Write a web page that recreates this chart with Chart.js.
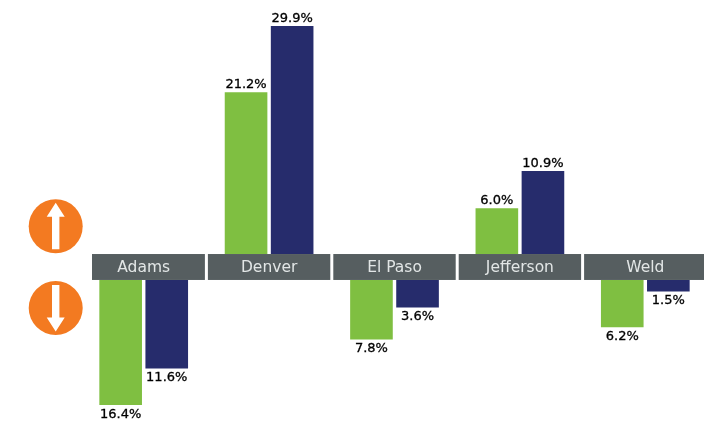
<!DOCTYPE html>
<html>
<head>
<meta charset="utf-8">
<script src="https://cdn.jsdelivr.net/npm/chart.js@4"></script>
<style>
  html, body { margin: 0; padding: 0; background: #fff; overflow: hidden; }
  canvas { display: block; }
</style>
</head>
<body>
<canvas id="chart" width="708" height="423"></canvas>
<script>
const counties = ['Adams', 'Denver', 'El Paso', 'Jefferson', 'Weld'];
const greenValues = [-16.4, 21.2, -7.8, 6.0, -6.2];
const navyValues = [-11.6, 29.9, -3.6, 10.9, -1.5];

// height of the grey county strip, in % units of the y axis
const stripHeight = 3.4;

// the strip sits between the up and the down bars, so down bars start below it
function toBar(v) {
  return v < 0 ? [-stripHeight, v - stripHeight] : [0, v];
}

const stripPlugin = {
  id: 'strip',
  beforeDatasetsDraw(chart) {
    const { ctx, scales: { x, y } } = chart;
    const step = x.getPixelForValue(1) - x.getPixelForValue(0);
    const top = y.getPixelForValue(0);
    const bottom = y.getPixelForValue(-stripHeight);
    ctx.save();
    ctx.fillStyle = '#565e60';
    counties.forEach((c, i) => {
      const mid = x.getPixelForValue(i);
      // first segment starts short, it leaves room for the arrows
      const left = i === 0 ? 92 : mid - step / 2 + 1.5;
      const right = mid + step / 2 - 1.5;
      ctx.fillRect(left, top, right - left, bottom - top);
    });
    ctx.restore();
  },
};

const labelPlugin = {
  id: 'valueLabels',
  afterDatasetsDraw(chart) {
    const { ctx } = chart;
    ctx.save();
    ctx.font = '13px "DejaVu Sans"';
    ctx.fillStyle = '#000';
    ctx.strokeStyle = '#000';
    ctx.lineWidth = 0.3;
    ctx.textAlign = 'center';
    [greenValues, navyValues].forEach((vals, d) => {
      const meta = chart.getDatasetMeta(d);
      vals.forEach((v, i) => {
        const el = meta.data[i];
        const text = Math.abs(v).toFixed(1) + '%';
        const ty = el.y + (v < 0 ? 3 : -1);
        ctx.textBaseline = v < 0 ? 'top' : 'bottom';
        ctx.fillText(text, el.x, ty);
        ctx.strokeText(text, el.x, ty);
      });
    });
    ctx.restore();
  },
};

function drawArrow(ctx, cx, cy, dir) {
  ctx.fillStyle = '#f37a21';
  ctx.beginPath();
  ctx.arc(cx, cy, 27, 0, Math.PI * 2);
  ctx.fill();
  ctx.fillStyle = '#fff';
  ctx.beginPath();
  ctx.moveTo(cx, cy - 23.5 * dir);
  ctx.lineTo(cx + 9, cy - 9.5 * dir);
  ctx.lineTo(cx + 3.7, cy - 9.5 * dir);
  ctx.lineTo(cx + 3.7, cy + 23 * dir);
  ctx.lineTo(cx - 3.7, cy + 23 * dir);
  ctx.lineTo(cx - 3.7, cy - 9.5 * dir);
  ctx.lineTo(cx - 9, cy - 9.5 * dir);
  ctx.closePath();
  ctx.fill();
}

const arrowPlugin = {
  id: 'arrows',
  afterDraw(chart) {
    const { ctx } = chart;
    ctx.save();
    drawArrow(ctx, 55.7, 226.3, 1);
    drawArrow(ctx, 55.7, 308, -1);
    ctx.restore();
  },
};

new Chart(document.getElementById('chart').getContext('2d'), {
  type: 'bar',
  data: {
    labels: counties,
    datasets: [
      { data: greenValues.map(toBar), backgroundColor: '#7fbf41' },
      { data: navyValues.map(toBar), backgroundColor: '#262c6c' },
    ],
  },
  options: {
    responsive: false,
    animation: false,
    layout: { padding: { left: 81, right: 0, top: 0, bottom: 0 }, autoPadding: false },
    categoryPercentage: 0.735,
    barPercentage: 0.925,
    plugins: { legend: { display: false }, tooltip: { enabled: false } },
    scales: {
      x: {
        position: { y: 0 },
        grid: { display: false },
        border: { display: false },
        ticks: {
          z: 1,
          padding: -3,
          maxRotation: 0,
          autoSkip: false,
          color: '#e2e6e6',
          font: { family: '"DejaVu Sans"', size: 15.5 },
        },
      },
      y: {
        display: false,
        min: -22.15,
        max: 33.3,
      },
    },
  },
  plugins: [stripPlugin, labelPlugin, arrowPlugin],
});
</script>
</body>
</html>
